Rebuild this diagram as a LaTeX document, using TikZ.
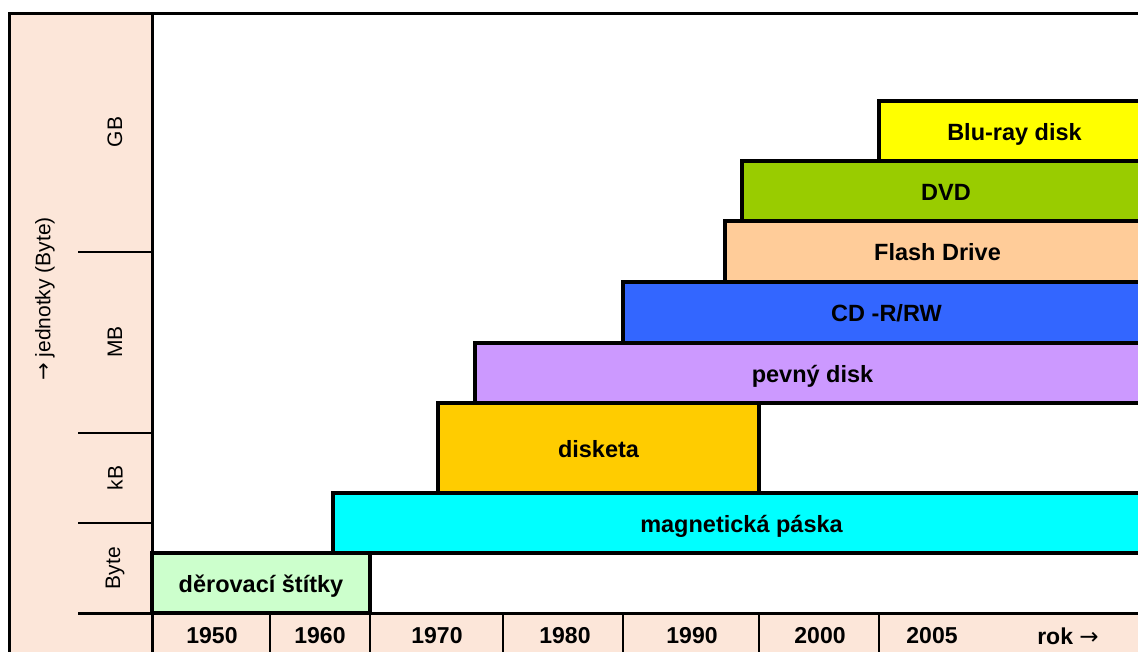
\documentclass[tikz,border=0pt]{standalone}
\usepackage{fontspec}
\setmainfont{Liberation Sans}
\newfontfamily\arrowfont{DejaVu Sans}
\definecolor{panel}{HTML}{FCE6D9}
\definecolor{cBlu}{HTML}{FFFF00}
\definecolor{cDvd}{HTML}{99CC00}
\definecolor{cFlash}{HTML}{FFCC99}
\definecolor{cCd}{HTML}{3366FF}
\definecolor{cHdd}{HTML}{CC99FF}
\definecolor{cFloppy}{HTML}{FFCC00}
\definecolor{cTape}{HTML}{00FFFF}
\definecolor{cCard}{HTML}{CCFFCC}
\begin{document}
\begin{tikzpicture}[x=1pt,y=-1pt,
  barbox/.style={draw=black, line width=4pt, inner sep=0pt, outer sep=0pt,
    text height=18pt, text depth=0pt,
    font=\fontsize{23.5}{27}\selectfont\bfseries},
  framel/.style={line width=3pt},
  tickl/.style={line width=2.5pt},
  yearlbl/.style={font=\fontsize{23}{27}\selectfont\bfseries, inner sep=0pt},
  unitlbl/.style={font=\fontsize{21}{25}\selectfont, rotate=90, inner sep=0pt}]
\useasboundingbox (0,0) rectangle (1138,651);
\begin{scope}
\clip (0,0) rectangle (1138,651);
% white chart area and tinted axis panels
\fill[white] (0,0) rectangle (1138,651);
\fill[panel] (9,13) rectangle (152,670);
\fill[panel] (152,613) rectangle (1160,670);

% storage media bars
\node[barbox, fill=cCard, minimum width=218, minimum height=60] (card) at (261,583) {děrovací štítky};
\node[barbox, fill=cTape, minimum width=817, minimum height=60] (tape) at (741.5,523) {magnetická páska};
\node[barbox, fill=cFloppy, minimum width=321, minimum height=90] (floppy) at (598.5,448) {disketa};
\node[barbox, fill=cHdd, minimum width=675, minimum height=60] (hdd) at (812.5,373) {pevný disk};
\node[barbox, fill=cCd, minimum width=527, minimum height=61] (cd) at (886.5,312.5) {CD -R/RW};
\node[barbox, fill=cFlash, minimum width=425, minimum height=61] (flash) at (937.5,251.5) {Flash Drive};
\node[barbox, fill=cDvd, minimum width=408, minimum height=60] (dvd) at (946,191) {DVD};
\node[barbox, fill=cBlu, minimum width=271, minimum height=60] (bluray) at (1014.5,131) {Blu-ray disk};

% outer frame and axis separators
\draw[framel] (9,670) -- (9,13) -- (1160,13);
\draw[framel] (152,13) -- (152,670);
\draw[tickl] (78,252) -- (152,252);
\draw[tickl] (78,433) -- (152,433);
\draw[tickl] (78,523) -- (152,523);
\draw[framel] (78,613) -- (1160,613);
\foreach \xd in {270,370,503,623,759,879}
  \draw[tickl] (\xd,613) -- (\xd,670);

% year labels
\node[yearlbl] (y1950) at (212,636) {1950};
\node[yearlbl] (y1960) at (320,636) {1960};
\node[yearlbl] (y1970) at (437,636) {1970};
\node[yearlbl] (y1980) at (565,636) {1980};
\node[yearlbl] (y1990) at (692,636) {1990};
\node[yearlbl] (y2000) at (820,636) {2000};
\node[yearlbl] (y2005) at (932,636) {2005};
\node[yearlbl] (yrok) at (1068,636) {rok {\arrowfont\mdseries →}};

% unit labels
\node[unitlbl] (uGB) at (115,132) {GB};
\node[unitlbl] (uMB) at (115,342) {MB};
\node[unitlbl] (ukB) at (115,478) {kB};
\node[unitlbl] (uByte) at (115,568) {Byte};
\node[unitlbl] (uaxis) at (45,299) {{\arrowfont →} jednotky (Byte)};
\end{scope}
\end{tikzpicture}
\end{document}
